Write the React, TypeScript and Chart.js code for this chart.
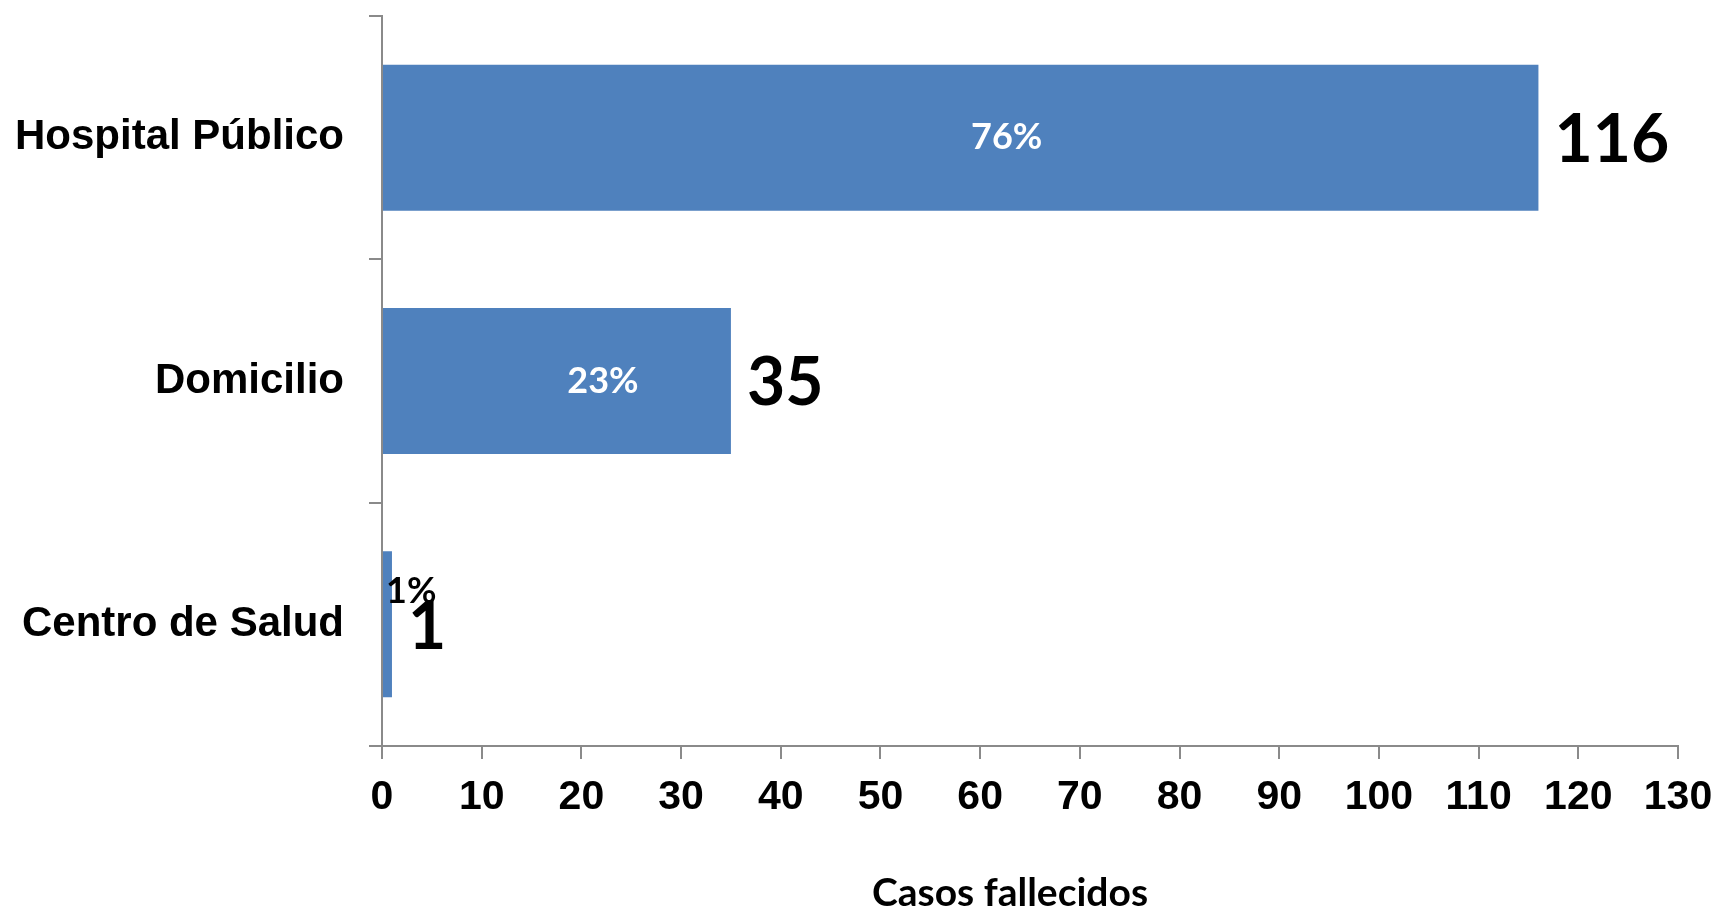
import React, { useEffect, useRef } from "react";
import { Chart, registerables } from "chart.js";

Chart.register(...registerables);

const categories = ["Hospital Público", "Domicilio", "Centro de Salud"];
const values = [116, 35, 1];
const xMin = 0;
const xMax = 130;
const xStep = 10;
const axisTitle = "Casos fallecidos";

const BAR_COLOR = "#4F81BD";
const AXIS_COLOR = "#8A8A8A";

const total = values.reduce((a, b) => a + b, 0);
const percentLabels = values.map((v) => `${Math.round((v / total) * 100)}%`);

const labelPlugin = {
  id: "barLabels",
  afterDatasetsDraw(chart: any) {
    const { ctx, chartArea } = chart;
    const meta = chart.getDatasetMeta(0);
    ctx.save();
    meta.data.forEach((bar: any, i: number) => {
      const props = bar.getProps(["x", "y", "base", "height"], true);
      const barEnd = props.x;
      const barStart = props.base;
      const cy = props.y;
      // value label
      ctx.font = "bold 66px Lato";
      ctx.fillStyle = "#000";
      ctx.textAlign = "left";
      ctx.textBaseline = "middle";
      ctx.fillText(String(values[i]), barEnd + 16, cy + 3);
      // percentage label
      ctx.font = "bold 36px Lato";
      const txt = percentLabels[i];
      const w = ctx.measureText(txt).width;
      const barW = barEnd - barStart;
      if (barW > w + 10) {
        ctx.fillStyle = "#FFFFFF";
        ctx.textAlign = "center";
        ctx.fillText(txt, (barStart + barEnd) / 2 + 46, cy);
      } else {
        ctx.fillStyle = "#000";
        ctx.textAlign = "left";
        ctx.fillText(txt, barStart + 3, cy - 33);
      }
    });
    // axis title
    ctx.font = "bold 39px Lato";
    ctx.fillStyle = "#000";
    ctx.textAlign = "center";
    ctx.textBaseline = "middle";
    ctx.fillText(axisTitle, (chartArea.left + chartArea.right) / 2 - 20, chart.height - 19);
    ctx.restore();
  },
};

export default function App() {
  const ref = useRef<HTMLCanvasElement | null>(null);
  useEffect(() => {
    if (!ref.current) return;
    const chart = new Chart(ref.current, {
      type: "bar",
      data: {
        labels: categories,
        datasets: [
          {
            data: values,
            backgroundColor: BAR_COLOR,
            borderWidth: 0,
            barPercentage: 0.6,
            categoryPercentage: 1,
          },
        ],
      },
      options: {
        indexAxis: "y",
        responsive: false,
        animation: false,
        layout: { padding: { top: 16, right: 42, bottom: 0, left: 0 } },
        plugins: { legend: { display: false }, tooltip: { enabled: false } },
        scales: {
          x: {
            type: "linear",
            min: xMin,
            max: xMax,
            ticks: {
              stepSize: xStep,
              color: "#000",
              font: { family: '"Liberation Sans", Arial, sans-serif', size: 41, weight: "bold" },
              padding: 14,
              maxRotation: 0,
              autoSkip: false,
            },
            grid: {
              drawOnChartArea: false,
              drawTicks: true,
              tickLength: 13,
              color: AXIS_COLOR,
              lineWidth: 2,
            },
            border: { color: AXIS_COLOR, width: 2 },
            afterFit: (s: any) => {
              s.height = 166;
              s.paddingLeft = 0;
              s.paddingRight = 0;
            },
          },
          y: {
            type: "category",
            offset: true,
            ticks: {
              color: "#000",
              font: { family: '"Liberation Sans", Arial, sans-serif', size: 42, weight: "bold" },
              padding: 25,
            },
            grid: {
              offset: true,
              drawOnChartArea: false,
              drawTicks: true,
              tickLength: 13,
              color: AXIS_COLOR,
              lineWidth: 2,
            },
            border: { color: AXIS_COLOR, width: 2 },
            afterFit: (s: any) => {
              s.width = 382;
              s.paddingTop = 0;
              s.paddingBottom = 0;
            },
          },
        },
      } as any,
      plugins: [labelPlugin],
    });
    return () => chart.destroy();
  }, []);
  return (
    <div style={{ position: "fixed", left: 0, top: 0, width: 1720, height: 912, background: "#fff" }}>
      <canvas ref={ref} width={1720} height={912} style={{ display: "block" }} />
    </div>
  );
}
